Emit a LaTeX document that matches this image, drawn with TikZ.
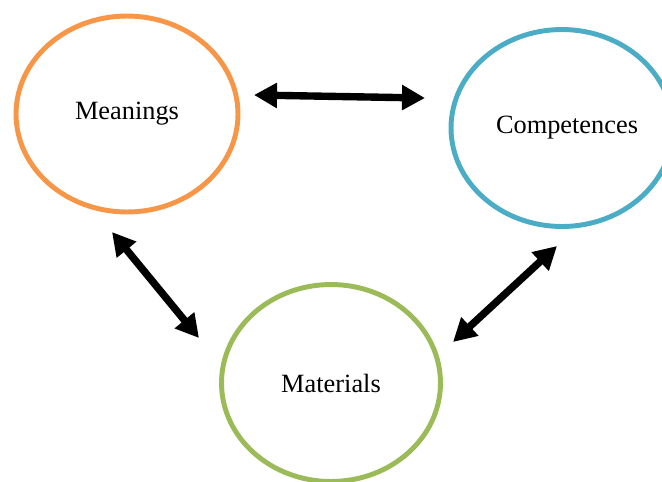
\documentclass[tikz,border=0pt]{standalone}
\usepackage{fontspec}
\setmainfont{Liberation Serif}
\usetikzlibrary{positioning,arrows.meta,shapes.geometric}
\definecolor{mcmlaranja}{HTML}{F79646}
\definecolor{mcmazul}{HTML}{4BACC6}
\definecolor{mcmverde}{HTML}{9BBB59}
\tikzset{
  mcmelipse/.style={ellipse, draw, line width=2.8pt, fill=white, inner sep=0pt,
                  minimum width=4.44cm, minimum height=3.88cm,
                  font=\fontsize{15}{18}\selectfont},
  mcmseta/.style={{Triangle[length=4.6mm,width=4.8mm]}-{Triangle[length=4.6mm,width=4.8mm]},
                  line width=4.2pt, draw=black},
}
\begin{document}
\begin{tikzpicture}[x=0.02cm, y=-0.02cm]
        \useasboundingbox (0,0) rectangle (662,481);
        % os tres elementos
        \node[mcmelipse, draw=mcmlaranja, minimum height=3.92cm] (mean) at (127,114) {Meanings};
        \node[mcmelipse, draw=mcmazul, minimum height=3.94cm] (comp) at (562,128) {\hspace*{0.2cm}Competences};
        \node[mcmelipse, draw=mcmverde, minimum width=4.38cm, minimum height=3.94cm] (mat) at (331,383) {Materials};
        % pontas das setas
        \coordinate (mc-a) at (254,95);
        \coordinate (mc-b) at (425,98);
        \coordinate (mm-a) at (112,232);
        \coordinate (mm-b) at (199,338);
        \coordinate (cm-a) at (557,246);
        \coordinate (cm-b) at (453,342);
        % ligacoes
        \draw[mcmseta] (mc-a) -- (mc-b);
        \draw[mcmseta] (mm-a) -- (mm-b);
        \draw[mcmseta] (cm-a) -- (cm-b);
    \end{tikzpicture}
\end{document}
